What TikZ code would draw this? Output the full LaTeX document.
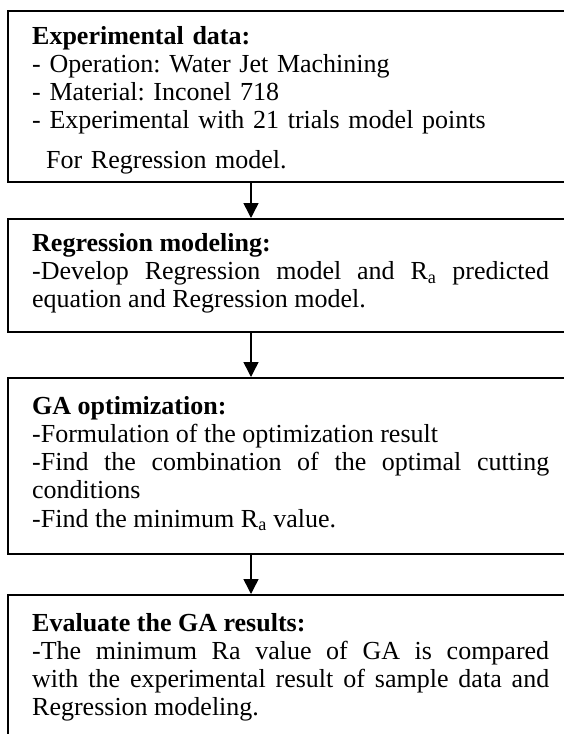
\documentclass[tikz,border=0pt]{standalone}
\usepackage{fontspec}
\setmainfont{Liberation Serif}
\usetikzlibrary{arrows.meta}
\hyphenpenalty=10000
\exhyphenpenalty=10000
\tolerance=10000
\frenchspacing
\begin{document}
\begin{tikzpicture}[x=1pt,y=-1pt,
  stage/.style={draw, line width=1.5pt, rectangle, inner sep=0pt,
    minimum width=580pt, anchor=north west},
  body/.style={anchor=base west, inner sep=0pt, text width=517pt,
    align=justify, font=\fontsize{26}{28.3}\selectfont},
  plain/.style={body, align=left},
  flow/.style={-{Triangle[width=15pt,length=15pt]}, line width=1.5pt}]
\useasboundingbox (0,0) rectangle (564,734);
\clip (0,0) rectangle (564,734);
\fill[white] (0,0) rectangle (564,734);

% stage frames (they run past the right and bottom edges)
\node[stage, line width=2pt, minimum height=171pt] (b1) at (7,10) {};
\node[stage, minimum height=113pt] (b2) at (7,218) {};
\node[stage, minimum height=176pt] (b3) at (7,377) {};
\node[stage, minimum height=200pt] (b4) at (7,594) {};

% stage texts; the first text frame cuts off the descenders of its last line
\begin{scope}
\clip (10,12) rectangle (560,173);
\node[plain] (t1) at (32,44) {\textbf{Experimental data:}\\
- Operation: Water Jet Machining\\
- Material: Inconel 718\\
- Experimental with 21 trials model points\\[11pt]
\hspace*{14pt}For Regression model.};
\end{scope}

\node[body] (t2) at (32,251) {\textbf{Regression modeling:}\\
-Develop Regression model and R\textsubscript{a} predicted\linebreak
equation and Regression model.};

\node[body] (t3) at (32,414) {\textbf{GA optimization:}\\
-Formulation of the optimization result\\
-Find the combination of the optimal cutting\linebreak
conditions\\
-Find the minimum R\textsubscript{a} value.};

\node[body] (t4) at (32,631) {\textbf{Evaluate the GA results:}\\
-The minimum Ra value of GA is compared\linebreak
with the experimental result of sample data and\linebreak
Regression modeling.};

% connectors
\coordinate (ax) at (251,0);
\draw[flow] (b1.south -| ax) -- (b2.north -| ax);
\draw[flow] (b2.south -| ax) -- (b3.north -| ax);
\draw[flow] (b3.south -| ax) -- (b4.north -| ax);
\end{tikzpicture}
\end{document}
